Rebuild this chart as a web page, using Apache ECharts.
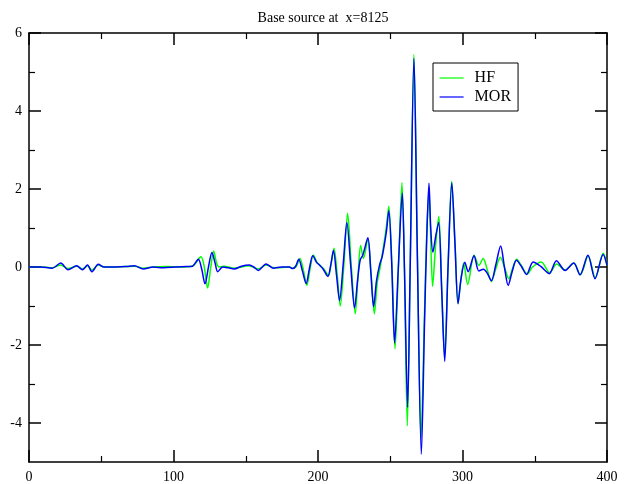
<!DOCTYPE html>
<html>
<head>
<meta charset="utf-8">
<script src="https://cdn.jsdelivr.net/npm/echarts@6/dist/echarts.min.js"></script>
<style>html,body{margin:0;padding:0;background:#fff;}#c{width:630px;height:484px;}</style>
</head>
<body>
<div id="c"></div>
<script>
var titleText = 'Base source at  x=8125';
var seriesNames = ['HF', 'MOR'];
var yMajorTicks = [-4, -2, 0, 2, 4, 6];
var yMinorTicks = [-3, -1, 1, 3, 5];

var hfT = [0,10,16,22,27,33,37,40.5,43.5,48,52,60,73,79,86,95,105,113,119,121.3,123.6,125.8,127.8,129.8,131.5,135,142,152,158.7,164,170,180,183,185,187.5,190,192.3,194.5,196.8,199.3,201.5,204,207.3,209.2,211.1,213.3,215.4,218,220.5,223,225.8,227.6,229.5,231.5,234.5,236.8,239,241,242.8,244.8,247.2,249,251.1,253.3,255.7,258.1,259.8,261.8,263.8,266.4,268.8,271.3,273.7,275.2,276.8,279.3,281.5,283.6,285.6,287.6,290,292.5,294.8,296.9,299,300.8,303.6,308,311.4,314.3,317,320,323,326.2,329,332,334.5,337.5,340.5,344.8,348.5,354.5,360.3,365.2,371,377,381.5,387,391.9,397.4,400];
var hfV = [0,0,-0.02,0.05,-0.04,0.02,-0.05,0.03,-0.08,0.05,0,0,0.02,-0.03,0,0.01,0,0.02,0.26,0,-0.54,0,0.41,0.1,0,0.02,-0.03,0.03,-0.05,0.05,-0.02,0,-0.03,0.02,0.22,-0.1,-0.47,-0.05,0.31,0.12,0.04,-0.05,-0.22,0.1,0.48,-0.2,-1.0,0.1,1.38,0.05,-1.2,-0.3,0.55,0.22,0.72,-0.2,-1.2,-0.4,-0.05,0.4,1.0,1.56,0.1,-2.1,0,2.16,0,-4.07,0,5.45,0.3,-4.4,-1.2,0.8,1.95,-0.5,0.6,1.3,-0.5,-2.3,0,2.2,0.6,-0.94,-0.3,0.1,-0.45,0.3,0.04,0.22,-0.05,-0.37,-0.05,0.25,0,-0.3,-0.05,0.2,0.05,-0.18,0,0.13,-0.15,0.08,-0.08,0.1,-0.2,0.28,-0.28,0.35,0.05];

var morT = [0,8,16,22,27,33,37,40.5,43.5,48,52,60,67,73,79,86,93,102,109,113,117.2,119.5,121.8,124.2,126.6,128.8,130.6,134,138,142,147,152.5,155.5,158.7,161.5,164,169,175,180,182.5,184.5,186.7,189.2,191.8,194,196.4,199,201,203.5,206.8,208.8,210.7,212.8,214.9,217.5,220,222.6,225.3,227.5,229.2,231,234.5,236.5,238.5,240.5,242.6,244.5,247.3,249,251,253,255.6,258.3,259.8,262,263.8,266.4,268.8,271.5,273.8,275.3,276.8,278,279.5,281.5,283.5,285.6,287.7,290,292.6,294.8,296.9,299,301.6,303.9,308,311.3,314.5,317,320,323,326.4,329,331.6,334.5,337.3,341,344.3,348.9,354,360,365,371,377,381.3,386.8,391.7,397.3,400];
var morV = [0,0,-0.03,0.1,-0.07,0.03,-0.07,0.05,-0.12,0.07,0,0,0.01,0.03,-0.05,0,-0.02,0,0.01,0.02,0.2,-0.05,-0.43,0,0.37,0.1,-0.12,0,-0.02,-0.05,0.02,0.05,0,-0.09,0,0.08,-0.03,0,0,-0.04,0.02,0.2,-0.1,-0.42,-0.05,0.29,0.12,0.05,-0.05,-0.24,0.05,0.42,-0.2,-0.86,0.1,1.14,0.05,-1.05,-0.3,0.18,0.3,0.75,-0.1,-1.02,-0.35,0.05,0.28,0.9,1.45,0.1,-1.95,0,1.9,0,-3.6,0,5.35,0.2,-4.8,-1.3,0.8,2.15,1.0,0.38,0.8,1.15,-0.6,-2.42,0,2.16,0.6,-0.94,-0.3,0.12,-0.12,0.29,-0.1,-0.06,-0.15,-0.35,0.05,0.54,0,-0.47,-0.1,0.17,0,-0.19,0.13,0.02,-0.17,0.16,-0.09,0.1,-0.2,0.3,-0.3,0.32,0.05];

function pairs(t, v) { return t.map(function (x, i) { return [x, v[i]]; }); }

var FONT = 'Liberation Serif';
var axisLineStyle = { color: '#000', width: 1.5 };

function xAx(pos, labels) {
  return {
    type: 'value', position: pos, min: 0, max: 400, interval: 100,
    axisLine: { show: true, onZero: false, lineStyle: axisLineStyle },
    axisTick: { show: true, inside: true, length: 12, lineStyle: { color: '#000', width: 1.5 } },
    minorTick: { show: true, splitNumber: 2, length: 6, lineStyle: { color: '#000', width: 1.2 } },
    axisLabel: { show: labels, margin: 8, fontFamily: FONT, fontSize: 14, color: '#000' },
    splitLine: { show: false }, minorSplitLine: { show: false }
  };
}
function yAx(pos, major, labels) {
  return {
    type: 'value', position: pos, min: -5, max: 6,
    axisLine: { show: major, onZero: false, lineStyle: axisLineStyle },
    axisTick: { show: true, inside: true, length: major ? 12 : 6,
      customValues: major ? yMajorTicks : yMinorTicks,
      lineStyle: { color: '#000', width: major ? 1.5 : 1.2 } },
    axisLabel: { show: labels, margin: 7, fontFamily: FONT, fontSize: 14, color: '#000',
      customValues: yMajorTicks },
    splitLine: { show: false }
  };
}

var chart = echarts.init(document.getElementById('c'), null, { renderer: 'canvas' });
chart.setOption({
  backgroundColor: '#fff',
  animation: false,
  title: {
    text: titleText, left: 318, top: 6, textAlign: 'center',
    textStyle: { fontFamily: FONT, fontSize: 14, fontWeight: 'normal', color: '#000' }
  },
  legend: {
    data: seriesNames, orient: 'vertical', left: 433, top: 63,
    itemWidth: 24, itemHeight: 14, itemGap: 3,
    padding: [7, 7, 6, 6],
    borderColor: '#000', borderWidth: 1, backgroundColor: '#fff',
    itemStyle: { opacity: 0, borderWidth: 0 },
    lineStyle: { width: 1.2 },
    textStyle: { fontFamily: FONT, fontSize: 16, color: '#000', padding: [0, 0, 0, 6] }
  },
  grid: { left: 29, right: 23, top: 33, bottom: 21, containLabel: false },
  xAxis: [xAx('bottom', true), xAx('top', false)],
  yAxis: [yAx('left', true, true), yAx('left', false, false), yAx('right', true, false), yAx('right', false, false)],
  series: [
    { name: seriesNames[0], type: 'line', data: pairs(hfT, hfV), symbol: 'none', smooth: 0.3,
      lineStyle: { color: '#00ff00', width: 1.5 }, itemStyle: { color: '#00ff00' }, z: 2 },
    { name: seriesNames[1], type: 'line', data: pairs(morT, morV), symbol: 'none', smooth: 0.3,
      lineStyle: { color: '#0000ff', width: 1.5 }, itemStyle: { color: '#0000ff' }, z: 3 }
  ]
});
</script>
</body>
</html>
